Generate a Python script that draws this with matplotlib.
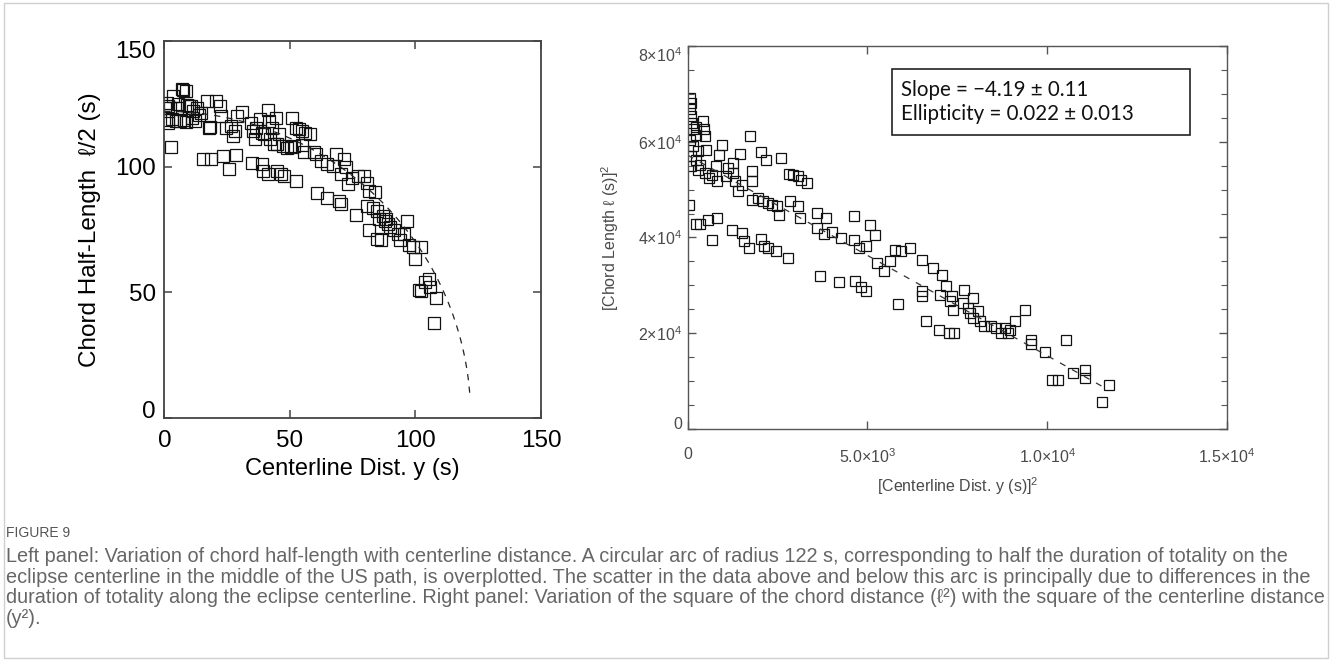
import numpy as np
import matplotlib
matplotlib.use('Agg')
import matplotlib.pyplot as plt
from matplotlib.ticker import MultipleLocator, FixedLocator
from matplotlib.patches import Rectangle

plt.rcParams['font.family'] = ['Liberation Sans', 'DejaVu Sans']
plt.rcParams['mathtext.default'] = 'regular'

# ---- left panel: centerline distance y (s) vs chord half-length (s)
dist = [1.6, 2.4, 1.6, 2.7, 3.4, 5.0, 6.9, 7.6, 8.5, 9.2, 9.9, 4.7, 6.2, 8.5,
        10.7, 11.4, 13.0, 13.8, 12.3, 16.8, 17.6, 18.0, 20.6, 22.1, 22.6, 24.5,
        26.7, 28.3, 29.0, 30.8, 27.5, 0.8, 1.2, 3.0, 5.5, 8.0, 11.0, 14.5,
        34.4, 35.1, 35.9, 36.6, 38.2, 38.9, 39.7, 41.2, 41.5, 42.0, 42.7, 43.5,
        44.3, 44.8, 45.8, 47.3, 48.8, 50.3, 50.8, 51.5, 52.6, 53.5, 54.9, 56.0,
        58.0, 55.7, 54.9,
        15.3, 18.4, 23.2, 25.9, 28.7, 34.7, 38.8, 39.4, 41.2, 45.0, 46.5, 47.6,
        52.6, 60.7, 64.8, 69.4, 70.2, 76.5, 81.6, 84.6, 86.2,
        59.5, 60.5, 62.5, 64.8, 67.1, 68.3, 70.2, 71.7, 72.4, 73.2, 74.7, 77.0,
        79.3, 80.8, 81.6, 83.9, 80.8, 83.0, 84.6, 85.4, 86.9, 87.7, 88.4, 89.2,
        89.9, 91.5, 93.0, 93.7, 95.3, 96.8, 97.6, 99.1, 99.9, 102.2, 101.4,
        102.0, 103.7, 105.2, 105.9, 108.2, 107.5]
half_len = [124.0, 123.3, 117.4, 107.8, 128.0, 123.5, 131.0, 130.5, 130.0, 124.7,
            124.3, 118.0, 118.0, 117.6, 124.0, 122.0, 123.3, 120.7, 118.0, 126.0,
            115.4, 115.8, 126.0, 124.0, 120.0, 115.4, 116.0, 114.0, 120.0, 121.8,
            112.0, 118.5, 125.5, 119.0, 125.0, 118.5, 119.5, 121.5,
            117.4, 114.0, 110.8, 115.4, 118.8, 113.5, 112.8, 122.7, 118.0, 110.8,
            115.4, 108.8, 119.4, 108.8, 112.8, 108.2, 107.5, 107.8, 119.4, 108.0,
            115.4, 114.8, 114.0, 113.5, 112.8, 105.6, 108.5,
            102.9, 102.9, 104.2, 99.0, 104.6, 101.3, 100.9, 98.3, 97.0, 98.3, 97.0,
            96.3, 94.1, 89.3, 87.3, 86.4, 84.9, 80.9, 74.6, 71.2, 70.6,
            105.6, 104.8, 102.3, 100.9, 100.3, 104.9, 97.0, 102.9, 99.9, 93.0, 95.6,
            96.3, 96.3, 93.6, 90.4, 89.7, 84.4, 83.5, 82.4, 79.2, 80.5, 78.5, 79.2,
            77.2, 75.9, 74.6, 73.2, 70.6, 73.2, 78.5, 68.6, 68.0, 63.3, 68.0, 50.8,
            50.5, 54.1, 55.4, 52.1, 47.7, 37.6]
arc_radius = 122.0  # s, half the totality duration on the centerline

# ---- right panel: squared centerline distance vs squared chord length
dist_sq = [52, 91, 52, 91, 130, 155, 220, 52, 155, 285, 104, 220, 350, 285, 480,
           90, 415, 480, 440, 240, 518, 674, 803, 600,
           868, 959, 777, 1127, 1062, 1257, 1257, 1451, 1322, 1386, 1516, 1736,
           1775, 1788, 1775, 2034, 2164, 1944, 2099, 2229, 2358, 2488, 2591, 2552,
           2812, 2941, 3071, 3161, 3330, 2850, 3071, 3136,
           3589, 3849, 3589, 3783, 4004, 4276, 4626, 4626, 4755, 4950, 5079, 5209,
           5273, 5467, 5623, 5752, 5921, 6180, 6504, 6504, 6530, 6828, 7061, 7178,
           7022, 7346, 7385, 7307, 7696, 7670, 7800, 7930, 7865, 7930, 8085, 8124,
           8254, 8448, 8578, 8707, 8837, 8902, 8960, 9096, 9381, 9549, 9549, 9938,
           10132, 10300, 10521, 10715, 11039, 11039, 11713, 11531,
           26, 220, 350, 570, 803, 674, 1218, 1516, 1555, 1710, 2034, 2125, 2229,
           2462, 2786, 3693, 4211, 4651, 4820, 4950, 5856, 6634, 6997, 7256, 7411]
chord_sq = [69180, 68140, 66740, 65350, 63950, 62560, 61510, 60460, 59070, 58020,
            56980, 56280, 55230, 54190, 53490, 55000, 64300, 61160, 62560, 63000,
            58230, 53140, 51750, 52500,
            57330, 59280, 54890, 54540, 52790, 53490, 55580, 57540, 51750, 49660,
            51050, 61160, 51750, 53840, 47910, 57820, 56140, 48260, 47560, 47210,
            46860, 46520, 56630, 44770, 53350, 53140, 52790, 52100, 51400, 47560,
            46520, 44080,
            45120, 44080, 41980, 40730, 41080, 39890, 44420, 39540, 37800, 38150,
            42680, 40590, 34660, 32920, 35150, 37450, 37100, 37800, 35360, 28730,
            27690, 33610, 32220, 29920, 28040, 27690, 24900, 26640, 29080, 26290,
            25250, 27340, 24200, 23150, 24550, 22460, 21410, 21410, 21060, 20020,
            21060, 20020, 20700, 22460, 24900, 18620, 17780, 16180, 10250, 10250,
            18620, 11650, 12340, 10600, 9210, 5720,
            46860, 42890, 42890, 43580, 44080, 39540, 41500, 40940, 39190, 37800,
            39680, 38290, 37800, 37100, 35710, 31870, 30620, 30830, 29640, 28730,
            26150, 22460, 20710, 20020, 20020]
fit_slope = -4.19
fit_intercept = 5.72e4
fit_end = 1.16e4

caption_lines = [
    "Left panel: Variation of chord half-length with centerline distance. A circular arc of radius 122 s, corresponding to half the duration of totality on the",
    "eclipse centerline in the middle of the US path, is overplotted. The scatter in the data above and below this arc is principally due to differences in the",
    "duration of totality along the eclipse centerline. Right panel: Variation of the square of the chord distance (\u2113\u00b2) with the square of the centerline distance",
    "(y\u00b2).",
]

fig = plt.figure(figsize=(13.32, 6.61), dpi=100)

# left panel
ax1 = fig.add_axes([0.1234, 0.3681, 0.2828, 0.5699])
ax1.plot(dist, half_len, ls='none', marker='s', ms=8, mfc='none', mec='#111', mew=0.9)
yy = np.linspace(0, 121.6, 200)
ax1.plot(yy, np.sqrt(arc_radius ** 2 - yy ** 2), ls=(0, (5, 5)), color='#222', lw=0.9)
ax1.set_xlim(0, 150)
ax1.set_ylim(0, 150)
ax1.xaxis.set_major_locator(FixedLocator([0, 50, 100, 150]))
ax1.yaxis.set_major_locator(FixedLocator([0, 50, 100, 150]))
ax1.tick_params(direction='in', top=True, right=True, length=6, width=1.1,
                color='#444', labelsize=17.5)
ax1.tick_params(axis='x', pad=9)
ax1.tick_params(axis='y', pad=6)
for s in ax1.spines.values():
    s.set_color('#444')
    s.set_linewidth(1.3)
ax1.set_xlabel('Centerline Dist. y (s)', fontsize=17, labelpad=4)
ax1.set_ylabel('Chord Half-Length  ℓ/2 (s)', fontsize=17.5, labelpad=10)
fig.canvas.draw()
ylabs = ax1.get_yticklabels()
ylabs[0].set_va('baseline')
ylabs[-1].set_va('top')

# right panel
gray = '#4a4a4a'
ax2 = fig.add_axes([0.5163, 0.3510, 0.4049, 0.5794])
ax2.plot(dist_sq, chord_sq, ls='none', marker='s', ms=7, mfc='none', mec='#111', mew=0.9)
xx = np.array([0, fit_end])
ax2.plot(xx, fit_intercept + fit_slope * xx, ls=(0, (5, 6)), color='#333', lw=0.9)
ax2.set_xlim(0, 1.5e4)
ax2.set_ylim(0, 8e4)
ax2.xaxis.set_major_locator(FixedLocator([0, 5e3, 1e4, 1.5e4]))
ax2.yaxis.set_major_locator(FixedLocator([0, 2e4, 4e4, 6e4, 8e4]))
ax2.yaxis.set_minor_locator(MultipleLocator(5e3))
ax2.set_xticklabels(['0', r'$5.0{\times}10^{3}$', r'$1.0{\times}10^{4}$', r'$1.5{\times}10^{4}$'])
ax2.set_yticklabels(['0', r'$2{\times}10^{4}$', r'$4{\times}10^{4}$', r'$6{\times}10^{4}$', r'$8{\times}10^{4}$'])
ax2.tick_params(which='both', direction='in', top=True, right=True, color='#555',
                labelsize=11.5, labelcolor=gray)
ax2.tick_params(which='major', length=6, width=1)
ax2.tick_params(which='minor', length=4, width=0.8)
ax2.tick_params(axis='x', pad=13)
ax2.tick_params(axis='y', pad=4)
for s in ax2.spines.values():
    s.set_color('#555')
    s.set_linewidth(1.0)
ax2.set_xlabel(r'[Centerline Dist. y (s)]$^{2}$', fontsize=11.5, color=gray, labelpad=7)
ax2.set_ylabel(r'[Chord Length ℓ (s)]$^{2}$', fontsize=11.5, color=gray, labelpad=12)
ylabs2 = ax2.get_yticklabels()
ylabs2[0].set_va('baseline')
ylabs2[-1].set_va('top')

# fit result box
ax2.add_patch(Rectangle((0.379, 0.7676), 0.5526, 0.1723, transform=ax2.transAxes,
                        fc='white', ec='#222', lw=1.2, zorder=5))
ax2.text(0.395, 0.870, 'Slope = \u22124.19 \u00b1 0.11', transform=ax2.transAxes,
         family=['Lato', 'DejaVu Sans'], fontsize=14.8, va='baseline', color='#111', zorder=6)
ax2.text(0.395, 0.8055, 'Ellipticity = 0.022 \u00b1 0.013', transform=ax2.transAxes,
         family=['Lato', 'DejaVu Sans'], fontsize=14.8, va='baseline', color='#111', zorder=6)

# caption, sized so the longest line spans the frame like the original
cap_font = ['Liberation Sans', 'DejaVu Sans']
fig.text(6 / 1332, 1 - 533 / 661, 'FIGURE 9', family=cap_font, fontsize=10,
         color='#555', va='center')
cap_texts = []
for i, line in enumerate(caption_lines):
    t = fig.text(6 / 1332, 1 - (557 + 20.4 * i) / 661, line, family=cap_font, fontsize=12,
                 color='#666', va='center')
    cap_texts.append(t)
r = fig.canvas.get_renderer()
w = cap_texts[2].get_window_extent(renderer=r).width
for t in cap_texts:
    t.set_fontsize(12 * 1320 / w)

# figure frame
fig.add_artist(Rectangle((4 / 1332, 3 / 661), 1324 / 1332, 655 / 661,
                         transform=fig.transFigure, fill=False, ec='#cfcfcf', lw=1))

fig.savefig('out.png', dpi=100)
